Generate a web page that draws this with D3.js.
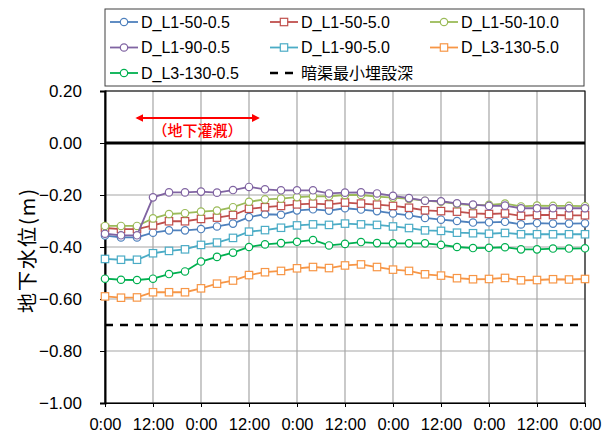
<!DOCTYPE html>
<html lang="ja">
<head>
<meta charset="UTF-8">
<title>地下水位</title>
<style>
  body { margin: 0; background: #fff; }
  text { font-family: "Liberation Sans", Arial, sans-serif; fill: #000; }
  .jp { font-family: "Noto Sans CJK JP", sans-serif; }
</style>
</head>
<body>
<script src="https://d3js.org/d3.v7.min.js"></script>
<script>
// hours from start, one reading every 4 hours
var hours = d3.range(0, 121, 4);
var tickHours = [0, 12, 24, 36, 48, 60, 72, 84, 96, 108, 120];
var tickLabels = ["0:00", "12:00", "0:00", "12:00", "0:00", "12:00", "0:00", "12:00", "0:00", "12:00", "0:00"];
var yTicks = [0.2, 0, -0.2, -0.4, -0.6, -0.8, -1.0];

var seriesNames = ["D_L1-50-0.5", "D_L1-50-5.0", "D_L1-50-10.0", "D_L1-90-0.5", "D_L1-90-5.0", "D_L3-130-5.0", "D_L3-130-0.5"];
var seriesColors = ["#4f81bd", "#c0504d", "#9bbb59", "#8064a2", "#4bacc6", "#f79646", "#00b050"];
var seriesMarkers = ["circle", "square", "circle", "circle", "square", "square", "circle"];

var l1_50_05 = [-0.356, -0.363, -0.363, -0.345, -0.336, -0.336, -0.331, -0.321, -0.310, -0.285, -0.274, -0.276, -0.259, -0.255, -0.260, -0.251, -0.256, -0.262, -0.271, -0.278, -0.288, -0.295, -0.300, -0.306, -0.305, -0.303, -0.313, -0.308, -0.310, -0.310, -0.309];
var l1_50_50 = [-0.327, -0.331, -0.331, -0.317, -0.301, -0.301, -0.292, -0.287, -0.277, -0.253, -0.247, -0.242, -0.236, -0.233, -0.236, -0.229, -0.233, -0.237, -0.242, -0.249, -0.259, -0.262, -0.264, -0.271, -0.273, -0.271, -0.280, -0.277, -0.277, -0.278, -0.278];
var l1_50_100 = [-0.319, -0.319, -0.319, -0.290, -0.273, -0.270, -0.264, -0.260, -0.247, -0.226, -0.217, -0.214, -0.208, -0.205, -0.205, -0.200, -0.200, -0.206, -0.210, -0.215, -0.222, -0.226, -0.234, -0.240, -0.238, -0.233, -0.244, -0.241, -0.242, -0.242, -0.243];
var l1_90_05 = [-0.349, -0.355, -0.355, -0.209, -0.190, -0.190, -0.187, -0.191, -0.181, -0.169, -0.178, -0.182, -0.182, -0.182, -0.194, -0.191, -0.190, -0.194, -0.203, -0.212, -0.222, -0.224, -0.232, -0.237, -0.242, -0.241, -0.251, -0.251, -0.251, -0.251, -0.251];
var l1_90_50 = [-0.446, -0.449, -0.449, -0.424, -0.415, -0.409, -0.392, -0.383, -0.365, -0.341, -0.335, -0.326, -0.317, -0.313, -0.315, -0.310, -0.313, -0.315, -0.321, -0.327, -0.336, -0.338, -0.345, -0.347, -0.349, -0.346, -0.351, -0.351, -0.351, -0.351, -0.351];
var l3_130_50 = [-0.590, -0.595, -0.594, -0.574, -0.574, -0.574, -0.559, -0.541, -0.529, -0.508, -0.497, -0.492, -0.482, -0.477, -0.481, -0.471, -0.467, -0.477, -0.487, -0.492, -0.505, -0.510, -0.520, -0.524, -0.523, -0.519, -0.528, -0.527, -0.524, -0.525, -0.523];
var l3_130_05 = [-0.522, -0.526, -0.527, -0.522, -0.504, -0.494, -0.456, -0.438, -0.422, -0.400, -0.390, -0.385, -0.380, -0.373, -0.394, -0.388, -0.381, -0.385, -0.386, -0.386, -0.386, -0.392, -0.400, -0.404, -0.403, -0.401, -0.409, -0.409, -0.406, -0.406, -0.405];
var seriesValues = [l1_50_05, l1_50_50, l1_50_100, l1_90_05, l1_90_50, l3_130_50, l3_130_05];

var drainDepth = -0.70;           // 暗渠最小埋設深
var irrigation = [8, 38.3];       // 地下灌漑 period (hours)

var width = 611, height = 434;
var x = d3.scaleLinear().domain([0, 120]).range([105, 585]);
var y = d3.scaleLinear().domain([-1.0, 0.2]).range([403, 91]);

var svg = d3.select("body").append("svg")
    .attr("width", width)
    .attr("height", height);

// gridlines
svg.append("g").selectAll("line.h")
    .data(yTicks).enter().append("line")
    .attr("x1", x(0)).attr("x2", x(120))
    .attr("y1", function(d) { return y(d); })
    .attr("y2", function(d) { return y(d); })
    .attr("stroke", "#a6a6a6").attr("stroke-width", 1.2);
svg.append("g").selectAll("line.v")
    .data(tickHours).enter().append("line")
    .attr("x1", function(d) { return x(d); })
    .attr("x2", function(d) { return x(d); })
    .attr("y1", y(0.2)).attr("y2", y(-1.0))
    .attr("stroke", "#a6a6a6").attr("stroke-width", 1.2);

// plot frame
svg.append("rect")
    .attr("x", x(0)).attr("y", y(0.2))
    .attr("width", x(120) - x(0)).attr("height", y(-1.0) - y(0.2))
    .attr("fill", "none").attr("stroke", "#000").attr("stroke-width", 1);

// y axis
var yAxis = d3.axisLeft(y).tickValues(yTicks).tickFormat(d3.format(".2f")).tickSize(5).tickPadding(18);
var gy = svg.append("g").attr("transform", "translate(" + x(0) + ",0)").call(yAxis);
gy.select(".domain").attr("stroke", "#000").attr("stroke-width", 2);
gy.selectAll(".tick line").attr("stroke", "#000");
gy.selectAll("text").style("font-size", "17px").attr("fill", "#000");

// x axis
var xAxis = d3.axisBottom(x).tickValues(tickHours)
    .tickFormat(function(d, i) { return tickLabels[i]; }).tickSize(4).tickPadding(11);
var gx = svg.append("g").attr("transform", "translate(0," + y(-1.0) + ")").call(xAxis);
gx.select(".domain").attr("stroke", "#000").attr("stroke-width", 1);
gx.selectAll(".tick line").attr("stroke", "#000");
gx.selectAll("text").style("font-size", "16.5px").attr("fill", "#000");

// zero line and drain depth line
svg.append("line")
    .attr("x1", x(0)).attr("x2", x(120))
    .attr("y1", y(0)).attr("y2", y(0))
    .attr("stroke", "#000").attr("stroke-width", 3);
svg.append("line")
    .attr("x1", x(0)).attr("x2", x(120))
    .attr("y1", y(drainDepth)).attr("y2", y(drainDepth))
    .attr("stroke", "#000").attr("stroke-width", 2.5)
    .attr("stroke-dasharray", "8,7");

// y axis title
svg.append("text")
    .attr("class", "jp")
    .attr("transform", "translate(35," + ((y(0.2) + y(-1.0)) / 2 + 3) + ") rotate(-90)")
    .attr("text-anchor", "middle")
    .style("font-size", "20px")
    .style("letter-spacing", "2px")
    .text("地下水位(m)");

// series
var line = d3.line()
    .x(function(d, i) { return x(hours[i]); })
    .y(function(d) { return y(d); });

function drawMarker(g, type, color, cx, cy) {
    if (type === "circle") {
        g.append("circle").attr("cx", cx).attr("cy", cy).attr("r", 3.7)
            .attr("fill", "#fff").attr("stroke", color).attr("stroke-width", 1.2);
    } else {
        g.append("rect").attr("x", cx - 3.7).attr("y", cy - 3.7)
            .attr("width", 7.4).attr("height", 7.4)
            .attr("fill", "#fff").attr("stroke", color).attr("stroke-width", 1.2);
    }
}

seriesValues.forEach(function(vals, s) {
    var g = svg.append("g");
    g.append("path")
        .attr("d", line(vals))
        .attr("fill", "none")
        .attr("stroke", seriesColors[s])
        .attr("stroke-width", 1.8);
    vals.forEach(function(v, i) {
        drawMarker(g, seriesMarkers[s], seriesColors[s], x(hours[i]), y(v));
    });
});

// irrigation annotation
svg.append("defs").append("marker")
    .attr("id", "arr")
    .attr("viewBox", "0 0 10 10")
    .attr("refX", 8).attr("refY", 5)
    .attr("markerWidth", 4).attr("markerHeight", 4)
    .attr("orient", "auto-start-reverse")
    .append("path").attr("d", "M0,0L10,5L0,10z").attr("fill", "#ff0000");
svg.append("line")
    .attr("x1", x(irrigation[0])).attr("x2", x(irrigation[1]))
    .attr("y1", 118).attr("y2", 118)
    .attr("stroke", "#ff0000").attr("stroke-width", 2)
    .attr("marker-start", "url(#arr)").attr("marker-end", "url(#arr)");
svg.append("text")
    .attr("class", "jp")
    .attr("x", (x(irrigation[0]) + x(irrigation[1])) / 2)
    .attr("y", 136)
    .attr("text-anchor", "middle")
    .style("font-size", "15px")
    .style("font-weight", "500")
    .style("fill", "#ff0000")
    .text("（地下灌漑）");

// legend
var legend = svg.append("g");
legend.append("rect")
    .attr("x", 105).attr("y", 9).attr("width", 479).attr("height", 77)
    .attr("fill", "#fff").attr("stroke", "#404040").attr("stroke-width", 1);

var legendNames = seriesNames.concat(["暗渠最小埋設深"]);
legendNames.forEach(function(name, i) {
    var col = i % 3, row = Math.floor(i / 3);
    var lx = 110 + col * 160, ly = 22 + row * 25.5;
    var item = legend.append("g");
    if (i < seriesNames.length) {
        item.append("line")
            .attr("x1", lx).attr("x2", lx + 28)
            .attr("y1", ly).attr("y2", ly)
            .attr("stroke", seriesColors[i]).attr("stroke-width", 1.8);
        drawMarker(item, seriesMarkers[i], seriesColors[i], lx + 14, ly);
    } else {
        item.append("line")
            .attr("x1", lx).attr("x2", lx + 28)
            .attr("y1", ly).attr("y2", ly)
            .attr("stroke", "#000").attr("stroke-width", 2.5)
            .attr("stroke-dasharray", "8,7");
    }
    item.append("text")
        .attr("class", i < seriesNames.length ? null : "jp")
        .attr("x", lx + 31).attr("y", ly)
        .attr("dy", "0.36em")
        .style("font-size", "16px")
        .text(name);
});
</script>
</body>
</html>
